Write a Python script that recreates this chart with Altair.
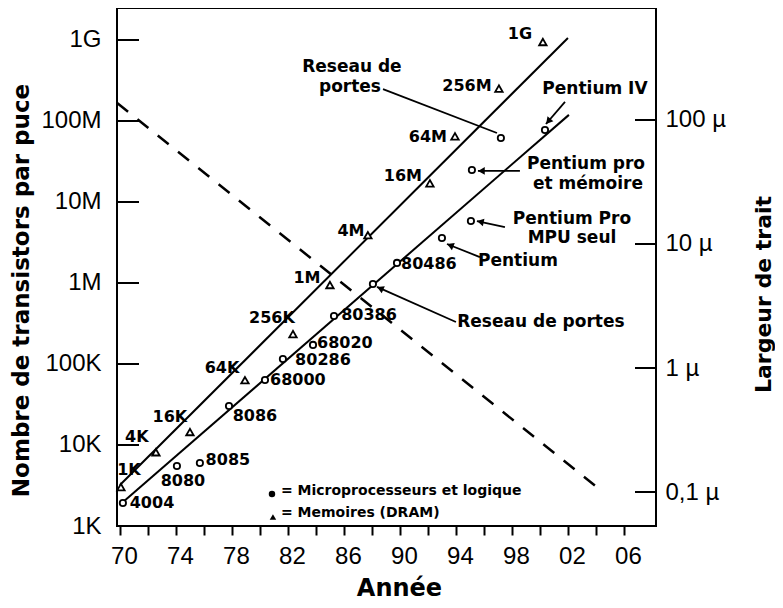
import math
import altair as alt
import pandas as pd

# ---------------- data ----------------
# Memories (DRAM) - triangles
mem_names = ["1K", "4K", "16K", "64K", "256K", "1M", "4M", "16M", "64M", "256M", "1G"]
mem_years = [1970.07, 1972.57, 1975.0, 1978.93, 1982.36, 1985.0, 1987.71, 1992.14, 1993.93, 1997.07, 2000.21]
mem_counts = [3020, 8130, 14450, 63100, 234000, 944000, 3.89e6, 1.70e7, 6.46e7, 2.51e8, 9.44e8]
mem_label_years = [1970.64, 1971.21, 1973.57, 1977.29, 1980.86, 1983.36, 1986.5, 1990.21, 1992.0, 1994.79, 1998.57]
mem_label_counts = [4910, 12600, 22200, 89300, 370000, 1.15e6, 4.39e6, 2.09e7, 6.34e7, 2.70e8, 1.19e9]

# Microprocessors and logic - circles
cpu_names = ["4004", "8080", "8085", "8086", "68000", "80286", "68020", "80386",
             "Reseau de portes", "80486", "Pentium", "Pentium Pro MPU seul",
             "Pentium pro et mémoire", "Reseau de portes (2)", "Pentium IV"]
cpu_years = [1970.21, 1974.07, 1975.71, 1977.79, 1980.36, 1981.64, 1983.79, 1985.29,
             1988.07, 1989.79, 1993.0, 1995.07, 1995.14, 1997.21, 2000.36]
cpu_counts = [1920, 5510, 6000, 30300, 63400, 115000, 172000, 392000,
              973000, 1.77e6, 3.59e6, 5.82e6, 2.48e7, 6.17e7, 7.74e7]

cpu_label_text = ["4004", "8080", "8085", "8086", "68000", "80286", "68020", "80386", "80486"]
cpu_label_years = [1972.29, 1974.5, 1977.71, 1979.64, 1982.71, 1984.5, 1986.07, 1987.79, 1992.07]
cpu_label_counts = [1920, 3590, 6530, 22800, 63400, 112000, 182000, 403000, 1.72e6]

# annotation texts
note_text = ["Reseau de", "portes", "Pentium IV", "Pentium pro", "et mémoire",
             "Pentium Pro", "MPU seul", "Pentium", "Reseau de portes"]
note_years = [1986.57, 1986.43, 2003.93, 2003.29, 2003.43, 2002.29, 2002.29, 1998.43, 2000.07]
note_counts = [4.64e8, 2.63e8, 2.48e8, 2.94e7, 1.67e7, 6.17e6, 3.59e6, 1.87e6, 330000]

# annotation arrows (start -> end), head drawn at end when True
arrow_year1 = [1988.79, 1994.0, 1998.57, 1997.5, 1995.71, 2001.79]
arrow_count1 = [2.48e8, 330000, 2.42e7, 4.91e6, 2.09e6, 1.72e8]
arrow_year2 = [1996.93, 1988.36, 1995.57, 1995.5, 1993.36, 2000.43]
arrow_count2 = [7.11e7, 894000, 2.42e7, 5.82e6, 3.03e6, 9.18e7]
arrow_head = [False, True, True, True, True, True]

# trend lines
trend_names = ["Memoires", "Microprocesseurs"]
trend_year1 = [1970.0, 1970.14]
trend_count1 = [3200, 1920]
trend_year2 = [2002.0, 2002.07]
trend_count2 = [1.06e9, 1.19e8]

# feature size (dashed line, right axis, microns)
feature_years = [1969.8, 2004.5]
feature_microns = [137, 0.1]

# axes
left_tick_values = [1e3, 1e4, 1e5, 1e6, 1e7, 1e8, 1e9]
left_tick_labels = ["1K", "10K", "100K", "1M", "10M", "100M", "1G"]
right_tick_values = [0.1, 1, 10, 100]
right_tick_labels = ["0,1 µ", "1 µ", "10 µ", "100 µ"]
year_ticks = list(range(1970, 2007, 2))

# legend
legend_text = ["= Microprocesseurs et logique", "= Memoires (DRAM)"]
legend_symbol_years = [1980.86, 1980.93]
legend_symbol_counts = [2480, 1290]
legend_text_years = [1981.5, 1981.5]
legend_text_counts = [2700, 1445]

# ---------------- layout / scales ----------------
W, H = 539, 518
X_DOM = [1969.79, 2008.29]
Y_LOG = [3.0, 9.395]
R_LOG = [-1.274, 2.903]
PX_YEAR = W / (X_DOM[1] - X_DOM[0])
PX_DEC = H / (Y_LOG[1] - Y_LOG[0])

x_scale = alt.Scale(domain=X_DOM, nice=False, zero=False)
y_scale = alt.Scale(type="log", domain=[10 ** Y_LOG[0], 10 ** Y_LOG[1]], nice=False)
r_scale = alt.Scale(type="log", domain=[10 ** R_LOG[0], 10 ** R_LOG[1]], nice=False)

BOLD = "DejaVu Sans"
PLAIN = "Liberation Sans"


def label_expr(values, labels):
    parts = []
    for i in range(len(values) - 1):
        mid = math.sqrt(values[i] * values[i + 1])
        parts.append(f"datum.value < {mid} ? '{labels[i]}' : ")
    return "".join(parts) + f"'{labels[-1]}'"


x_axis = alt.Axis(
    values=year_ticks,
    labelExpr="datum.value % 4 == 2 ? substring(toString(datum.value), 2, 4) : ''",
    title="Année", titleFont=BOLD, titleFontWeight="bold", titleFontSize=24,
    titleX=282, titleY=62, titleBaseline="middle", titleAlign="center", titleAnchor="start",
    labelFont=PLAIN, labelFontSize=24, labelPadding=9, labelOffset=4, labelColor="black",
    labelOverlap=False, labelFlush=False,
    tickSize=9, tickWidth=2, tickColor="black", domain=False, grid=False,
)
y_axis = alt.Axis(
    values=left_tick_values, labelExpr=label_expr(left_tick_values, left_tick_labels),
    title="Nombre de transistors par puce", titleFont=BOLD, titleFontWeight="bold",
    titleFontSize=23, titleX=-96, titleY=282, titleAngle=270,
    titleBaseline="middle", titleAlign="center", titleAnchor="start",
    labelFont=PLAIN, labelFontSize=24, labelPadding=16, labelColor="black",
    labelOverlap=False, labelFlush=False,
    ticks=False, tickSize=0, domain=False, grid=False,
)
r_axis = alt.Axis(
    orient="right", values=right_tick_values,
    labelExpr=label_expr(right_tick_values, right_tick_labels),
    title="Largeur de trait", titleFont=BOLD, titleFontWeight="bold",
    titleFontSize=22, titleX=107, titleY=286, titleAngle=270,
    titleBaseline="middle", titleAlign="center", titleAnchor="start",
    labelFont=PLAIN, labelFontSize=24, labelPadding=9, labelColor="black",
    labelOverlap=False, labelFlush=False,
    ticks=False, tickSize=0, domain=False, grid=False,
)

X = alt.X("year:Q", scale=x_scale, axis=x_axis)
Y = alt.Y("val:Q", scale=y_scale, axis=y_axis)

# ---------------- tables ----------------
mem_df = pd.DataFrame({"year": mem_years, "val": mem_counts, "name": mem_names})
mem_lab_df = pd.DataFrame({"year": mem_label_years, "val": mem_label_counts, "name": mem_names})
cpu_df = pd.DataFrame({"year": cpu_years, "val": cpu_counts, "name": cpu_names})
cpu_lab_df = pd.DataFrame({"year": cpu_label_years, "val": cpu_label_counts, "name": cpu_label_text})
note_df = pd.DataFrame({"year": note_years, "val": note_counts, "name": note_text})
trend_df = pd.DataFrame({"year": trend_year1, "val": trend_count1,
                         "year2": trend_year2, "val2": trend_count2, "name": trend_names})
arrow_df = pd.DataFrame({"year": arrow_year1, "val": arrow_count1,
                         "year2": arrow_year2, "val2": arrow_count2})

heads = []
for x1, c1, x2, c2, h in zip(arrow_year1, arrow_count1, arrow_year2, arrow_count2, arrow_head):
    if not h:
        continue
    dx = (x2 - x1) * PX_YEAR
    dy = -(math.log10(c2) - math.log10(c1)) * PX_DEC
    n = math.hypot(dx, dy)
    ux, uy = dx / n, dy / n
    back = 3.5
    hx = x2 - ux * back / PX_YEAR
    hv = 10 ** (math.log10(c2) + uy * back / PX_DEC)
    ang = math.degrees(math.atan2(dx, -dy)) % 360
    heads.append({"year": hx, "val": hv, "ang": ang})
head_df = pd.DataFrame(heads)

ltick_df = pd.DataFrame({"val": left_tick_values[1:]})
rtick_df = pd.DataFrame({"w": right_tick_values})
feat_df = pd.DataFrame({"year": [feature_years[0]], "w": [feature_microns[0]],
                        "year2": [feature_years[1]], "w2": [feature_microns[1]]})
leg_sym_df = pd.DataFrame({"year": legend_symbol_years, "val": legend_symbol_counts,
                           "shape": ["circle", "triangle-up"]})
leg_txt_df = pd.DataFrame({"year": legend_text_years, "val": legend_text_counts, "name": legend_text})

# ---------------- layers ----------------
trend = alt.Chart(trend_df).mark_rule(color="black", strokeWidth=2).encode(
    x=X, y=Y, x2="year2:Q", y2="val2:Q")

arrows = alt.Chart(arrow_df).mark_rule(color="black", strokeWidth=1.8).encode(
    x=X, y=Y, x2="year2:Q", y2="val2:Q")

arrowheads = alt.Chart(head_df).mark_point(
    shape="triangle-up", filled=True, color="black", size=60, opacity=1).encode(
    x=X, y=Y, angle=alt.Angle("ang:Q", scale=None))

mem_pts = alt.Chart(mem_df).mark_point(
    shape="triangle-up", filled=True, fill="white", stroke="black",
    strokeWidth=1.8, size=55, opacity=1).encode(x=X, y=Y)

cpu_pts = alt.Chart(cpu_df).mark_point(
    shape="circle", filled=True, fill="white", stroke="black",
    strokeWidth=1.8, size=40, opacity=1).encode(x=X, y=Y)

text_kw = dict(font=BOLD, fontWeight="bold", fontSize=16, color="black",
               align="center", baseline="middle")
mem_txt = alt.Chart(mem_lab_df).mark_text(**text_kw).encode(x=X, y=Y, text="name:N")
cpu_txt = alt.Chart(cpu_lab_df).mark_text(**text_kw).encode(x=X, y=Y, text="name:N")
note_kw = dict(text_kw, fontSize=17)
note_txt = alt.Chart(note_df).mark_text(**note_kw).encode(x=X, y=Y, text="name:N")

leg_sym = alt.Chart(leg_sym_df).mark_point(
    filled=True, color="black", size=42, opacity=1).encode(
    x=X, y=Y, shape=alt.Shape("shape:N", scale=None))
leg_txt = alt.Chart(leg_txt_df).mark_text(
    font=BOLD, fontWeight="bold", fontSize=14, color="black",
    align="left", baseline="middle").encode(x=X, y=Y, text="name:N")

lticks = alt.Chart(ltick_df).mark_rule(color="black", strokeWidth=2).encode(
    y=Y, x=alt.value(0), x2=alt.value(22))

left = alt.layer(trend, arrows, arrowheads, mem_pts, cpu_pts, mem_txt, cpu_txt,
                 note_txt, leg_sym, leg_txt, lticks)

R = alt.Y("w:Q", scale=r_scale, axis=r_axis)
feature = alt.Chart(feat_df).mark_rule(
    color="black", strokeWidth=2.5, strokeDash=[14, 12]).encode(
    x=X, y=R, x2="year2:Q", y2="w2:Q")
rticks = alt.Chart(rtick_df).mark_rule(color="black", strokeWidth=2).encode(
    y=R, x=alt.value(W - 21), x2=alt.value(W))
right = alt.layer(feature, rticks)

chart = alt.layer(left, right).resolve_scale(y="independent").properties(
    width=W, height=H,
    autosize=alt.AutoSizeParams(type="none"),
    padding={"left": 109, "top": 0, "right": 119, "bottom": 74},
).configure_view(stroke="black", strokeWidth=2).configure_axis(grid=False)

chart.save("out.html", embed_options={"renderer": "svg", "actions": False})
